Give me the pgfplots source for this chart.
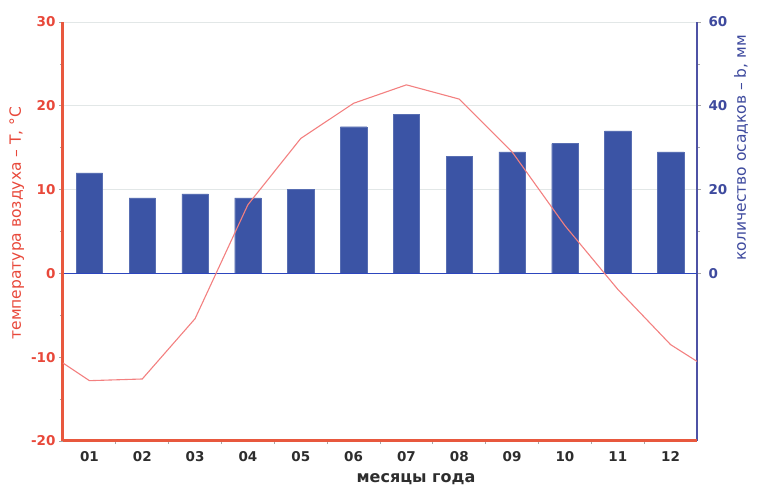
\documentclass[border=0pt]{standalone}
\usepackage{pgfplots}
\pgfplotsset{compat=1.18}
\usepackage{fontspec}
\setmainfont{DejaVu Sans}
\definecolor{axred}{RGB}{232,88,62}
\definecolor{lblred}{RGB}{232,72,58}
\definecolor{tline}{RGB}{243,128,128}
\definecolor{barblue}{RGB}{59,84,165}
\definecolor{zeroblue}{RGB}{45,70,190}
\definecolor{axblue}{RGB}{78,82,165}
\definecolor{lblblue}{RGB}{62,74,158}
\definecolor{gridgray}{RGB}{226,231,231}
\definecolor{txtgray}{RGB}{45,45,45}
\begin{document}
\begin{tikzpicture}
\path[use as bounding box] (-63pt,-46pt) rectangle (697pt,441pt);
% precipitation (right axis, bars)
\begin{axis}[
  at={(0,0)}, anchor=south west, scale only axis,
  width=634pt, height=419pt,
  xmin=0.5, xmax=12.5, ymin=-40, ymax=60,
  axis y line*=right, axis x line=none,
  ytick={0,20,40,60}, minor ytick={10,30,50},
  ymajorgrids, major grid style={gridgray, line width=0.8pt},
  axis line style={axblue, -},
  y axis line style={line width=2.5pt},
  tick align=outside, major tick length=4pt, minor tick length=3pt,
  every tick/.style={gray!70, line width=0.7pt},
  /pgf/number format/assume math mode=true,
  yticklabel style={font=\fontsize{13.5}{15}\selectfont\bfseries, text=lblblue, xshift=4pt},
  ylabel={количество осадков – b, мм},
  ylabel style={font=\fontsize{15.5}{18}\selectfont, text=lblblue, at={(ticklabel cs:0.70)}},
]
\addplot[ybar, bar width=0.5, fill=barblue, draw=barblue!85!white, line width=0.4pt]
 coordinates {(1,24) (2,18) (3,19) (4,18) (5,20) (6,35) (7,38) (8,28) (9,29) (10,31) (11,34) (12,29)};
\addplot[zeroblue, line width=1.3pt, no marks] coordinates {(0.5,0) (12.5,0)};
\end{axis}
% temperature (left axis, line)
\begin{axis}[
  at={(0,0)}, anchor=south west, scale only axis,
  width=634pt, height=419pt,
  xmin=0.5, xmax=12.5, ymin=-20, ymax=30,
  axis y line*=left, axis x line*=bottom,
  xtick={1,...,12}, xticklabels={01,02,03,04,05,06,07,08,09,10,11,12},
  major x tick style={draw=none},
  minor xtick={1.5,2.5,...,11.5},
  ytick={-20,-10,...,30}, minor ytick={-15,-5,...,25},
  axis line style={axred, -},
  x axis line style={line width=3pt},
  y axis line style={line width=3pt},
  tick align=outside, major tick length=4pt, minor tick length=3pt,
  every tick/.style={gray!70, line width=0.7pt},
  /pgf/number format/assume math mode=true,
  yticklabel style={font=\fontsize{13.5}{15}\selectfont\bfseries, text=lblred},
  xticklabel style={font=\fontsize{13.5}{15}\selectfont\bfseries, text=txtgray, yshift=-3pt},
  ylabel={температура воздуха – T, °C},
  ylabel style={font=\fontsize{15.5}{18}\selectfont, text=lblred, at={(ticklabel cs:0.52)}},
  xlabel={месяцы года},
  xlabel style={font=\fontsize{16}{18}\selectfont\bfseries, text=txtgray, xshift=36pt, yshift=-5pt},
]
\addplot[tline, line width=1.1pt, no marks]
 coordinates {(0.5,-10.7) (1,-12.8) (2,-12.6) (3,-5.4) (4,8.2) (5,16.1) (6,20.3) (7,22.5) (8,20.8) (9,14.5) (10,5.7) (11,-1.9) (12,-8.5) (12.5,-10.5)};
\end{axis}
\end{tikzpicture}
\end{document}
